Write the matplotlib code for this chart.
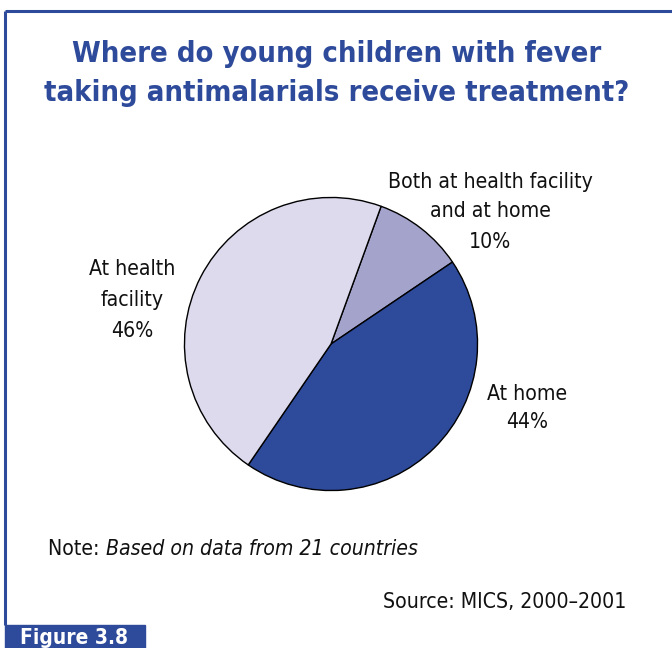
import matplotlib
matplotlib.use("Agg")
import matplotlib.pyplot as plt
from matplotlib.patches import Rectangle

TITLE_LINES = ["Where do young children with fever",
               "taking antimalarials receive treatment?"]
LABELS = [["Both at health facility", "and at home"],
          ["At home"],
          ["At health", "facility"]]
SHARES = [10, 44, 46]
COLORS = ["#A3A3CC", "#2E4A9A", "#DDDAEE"]
NOTE_PREFIX = "Note: "
NOTE_TEXT = "Based on data from 21 countries"
SOURCE = "Source: MICS, 2000\u20132001"
FIG_LABEL = "Figure 3.8"

BLUE = "#2E4A9A"
INK = "#111111"
FONT = "DejaVu Sans"
STRETCH = "condensed"

W, H = 672, 648
fig = plt.figure(figsize=(W / 100, H / 100), dpi=100)

bg = fig.add_axes([0, 0, 1, 1])
bg.set_xlim(0, W)
bg.set_ylim(H, 0)
bg.axis("off")


def fit_width(txt, target):
    # scale a text so its rendered width matches the reference
    fig.canvas.draw()
    w = txt.get_window_extent().width
    txt.set_fontsize(txt.get_fontsize() * target / w)
    return txt.get_fontsize()


def stack(x, baselines, lines, **kw):
    return [bg.text(x, y, s, va="baseline", **kw) for s, y in zip(lines, baselines)]


# frame: top and left lines, tab at the bottom
bg.plot([5, W], [11, 11], color=BLUE, lw=2.2, solid_capstyle="butt")
bg.plot([5, 5], [11, 625], color=BLUE, lw=2.2, solid_capstyle="butt")
bg.add_patch(Rectangle((5, 625), 140, 23, color=BLUE))
fl = bg.text(20, 644, FIG_LABEL, color="white", fontsize=17, fontweight="bold",
             family=FONT, stretch=STRETCH, ha="left", va="baseline")
fit_width(fl, 108)

# title
tkw = dict(color=BLUE, fontsize=23, fontweight="bold", family=FONT,
           stretch=STRETCH, ha="center")
t1, t2 = stack(337, [62, 101], TITLE_LINES, **tkw)
tfs = fit_width(t2, 585)
t1.set_fontsize(tfs)

# pie
cx, cy, r = 331, 344, 148
pax = fig.add_axes([(cx - r) / W, (H - cy - r) / H, 2 * r / W, 2 * r / H])
pax.pie(SHARES, colors=COLORS, startangle=70, counterclock=False,
        wedgeprops={"edgecolor": "black", "linewidth": 1.0})
pax.set_xlim(-1.01, 1.01)
pax.set_ylim(-1.01, 1.01)
pax.set_aspect("equal")
pax.axis("off")

# slice labels
lkw = dict(fontsize=16.5, family=FONT, stretch=STRETCH, ha="center", color=INK)
both = stack(490, [188, 217, 248], LABELS[0] + [f"{SHARES[0]}%"], **lkw)
fs = fit_width(both[0], 205)
for t in both[1:]:
    t.set_fontsize(fs)
lkw["fontsize"] = fs
stack(527, [400, 428], LABELS[1] + [f"{SHARES[1]}%"], **lkw)
stack(132, [275, 306, 337], LABELS[2] + [f"{SHARES[2]}%"], **lkw)

# note and source
nkw = dict(fontsize=fs, family=FONT, stretch=STRETCH, va="baseline", color=INK)
t = bg.text(48, 555, NOTE_PREFIX, ha="left", **nkw)
fig.canvas.draw()
x_end = t.get_window_extent().x1
bg.annotate(NOTE_TEXT, xy=(x_end, 555), xycoords=("figure pixels", "data"),
            style="italic", ha="left", **nkw)
bg.text(626, 608, SOURCE, ha="right", **nkw)

fig.savefig("out.png", dpi=100)
